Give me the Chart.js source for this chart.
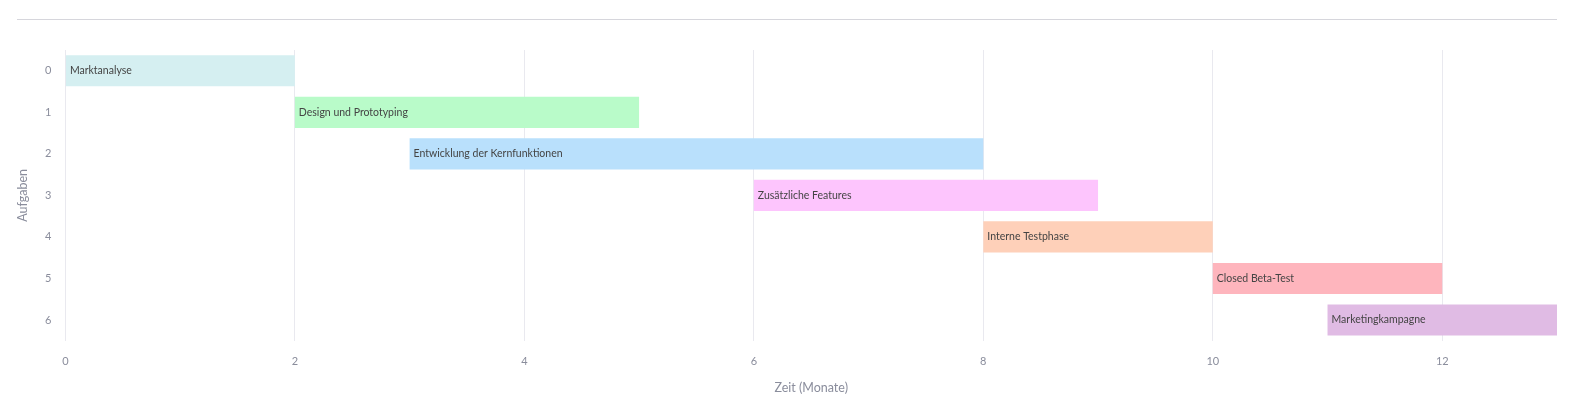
<!DOCTYPE html>
<html>
<head>
<meta charset="utf-8">
<script src="https://cdn.jsdelivr.net/npm/chart.js@4.4.0/dist/chart.umd.min.js"></script>
<style>
  html, body { margin: 0; padding: 0; background: #fff; }
  #wrap { position: relative; width: 1586px; height: 411px; }
  #rule { position: absolute; left: 17px; top: 19px; width: 1540px; border-top: 1px solid #d6d6dc; }
  canvas { position: absolute; left: 0; top: 0; }
</style>
</head>
<body>
<div id="wrap">
  <div id="rule"></div>
  <canvas id="gantt" width="1586" height="411"></canvas>
</div>
<script>
var taskNames = ["Marktanalyse", "Design und Prototyping", "Entwicklung der Kernfunktionen", "Zusätzliche Features", "Interne Testphase", "Closed Beta-Test", "Marketingkampagne"];
var taskIds = ["0", "1", "2", "3", "4", "5", "6"];
var startMonths = [0, 2, 3, 6, 8, 10, 11];
var endMonths = [2, 5, 8, 9, 10, 12, 13];
var barColors = ["#d5eff1", "#b9fbc9", "#b9e0fc", "#fdc5fd", "#fed0b9", "#feb5bd", "#e0bbe4"];

var ranges = startMonths.map(function(s, i) { return [s, endMonths[i]]; });

// writes the task name inside each bar
var barLabels = {
    id: 'barLabels',
    afterDatasetsDraw: function(chart) {
        var ctx = chart.ctx;
        var meta = chart.getDatasetMeta(0);
        ctx.save();
        ctx.font = "10.5px Lato, 'Open Sans', sans-serif";
        ctx.fillStyle = "#444444";
        ctx.textBaseline = "middle";
        ctx.textAlign = "left";
        meta.data.forEach(function(bar, i) {
            var left = Math.min(bar.x, bar.base);
            ctx.fillText(taskNames[i], left + 4, bar.y);
        });
        ctx.restore();
    }
};

var ctx = document.getElementById("gantt").getContext("2d");
window.ganttChart = new Chart(ctx, {
    type: 'bar',
    data: {
        labels: taskIds,
        datasets: [{
            data: ranges,
            backgroundColor: barColors,
            borderWidth: 0,
            barPercentage: 0.75,
            categoryPercentage: 1.0,
            borderSkipped: false
        }]
    },
    options: {
        indexAxis: 'y',
        responsive: false,
        animation: false,
        layout: {
            padding: { top: 50, right: 29, bottom: 16, left: 15 }
        },
        plugins: {
            legend: { display: false },
            tooltip: { enabled: false }
        },
        scales: {
            x: {
                type: 'linear',
                min: 0,
                max: 13,
                border: { display: false },
                grid: { color: '#e9e9ef', drawTicks: false },
                ticks: {
                    stepSize: 2,
                    includeBounds: false,
                    color: '#8a8d9c',
                    padding: 14,
                    font: { family: "Lato, 'Open Sans', sans-serif", size: 11 }
                },
                title: {
                    display: true,
                    text: 'Zeit (Monate)',
                    color: '#8a8d9c',
                    font: { family: "Lato, 'Open Sans', sans-serif", size: 12.5 },
                    padding: { top: -2, bottom: 0 }
                }
            },
            y: {
                border: { display: false },
                grid: { display: false },
                ticks: {
                    color: '#8a8d9c',
                    padding: 6,
                    font: { family: "Lato, 'Open Sans', sans-serif", size: 11 }
                },
                title: {
                    display: true,
                    text: 'Aufgaben',
                    color: '#8a8d9c',
                    font: { family: "Lato, 'Open Sans', sans-serif", size: 12.5 },
                    padding: { top: 0, bottom: 9 }
                }
            }
        }
    },
    plugins: [barLabels]
});
</script>
</body>
</html>
